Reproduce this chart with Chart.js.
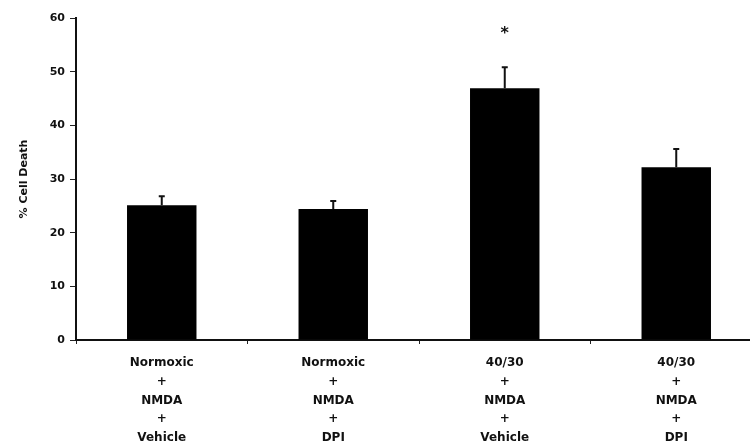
<!DOCTYPE html>
<html>
<head>
<meta charset="utf-8">
<script src="https://cdn.jsdelivr.net/npm/chart.js@4"></script>
<style>
  html, body { margin: 0; padding: 0; background: #fff; overflow: hidden; }
  #wrap { width: 762px; height: 448px; }
</style>
</head>
<body>
<div id="wrap"><canvas id="chart"></canvas></div>
<script>
// Data
const categories = [
  ['Normoxic', '+', 'NMDA', '+', 'Vehicle'],
  ['Normoxic', '+', 'NMDA', '+', 'DPI'],
  ['40/30', '+', 'NMDA', '+', 'Vehicle'],
  ['40/30', '+', 'NMDA', '+', 'DPI'],
];
const cellDeath = [25.1, 24.4, 46.9, 32.2];
const cellDeathErr = [1.7, 1.5, 3.9, 3.4];
const starLevel = [null, null, 57.7, null];
const yTicks = [0, 10, 20, 30, 40, 50, 60];

const FONT = 'DejaVu Sans, Verdana, sans-serif';

// error bars (upper only) + significance star
const extrasPlugin = {
  id: 'extras',
  afterDatasetsDraw(chart) {
    const ctx = chart.ctx;
    const x = chart.scales.x, y = chart.scales.y;
    ctx.save();
    ctx.strokeStyle = '#111';
    ctx.lineWidth = 2;
    cellDeath.forEach((v, i) => {
      const px = x.getPixelForValue(i);
      const top = y.getPixelForValue(v + cellDeathErr[i]);
      ctx.beginPath();
      ctx.moveTo(px, y.getPixelForValue(v));
      ctx.lineTo(px, top);
      ctx.moveTo(px - 3, top);
      ctx.lineTo(px + 3, top);
      ctx.stroke();
    });
    ctx.fillStyle = '#111';
    ctx.font = 'bold 16px ' + FONT;
    ctx.textAlign = 'center';
    ctx.textBaseline = 'middle';
    starLevel.forEach((s, i) => {
      if (s == null) return;
      ctx.fillText('*', x.getPixelForValue(i), y.getPixelForValue(s) + 4);
    });
    ctx.restore();
  }
};

new Chart(document.getElementById('chart').getContext('2d'), {
  type: 'bar',
  data: {
    labels: categories,
    datasets: [{
      data: cellDeath,
      backgroundColor: '#000',
      borderWidth: 0,
      categoryPercentage: 1,
      barPercentage: 0.405,
    }],
  },
  options: {
    responsive: true,
    maintainAspectRatio: false,
    animation: false,
    layout: { padding: { top: 18, left: 0, right: 0, bottom: 0 } },
    plugins: { legend: { display: false }, tooltip: { enabled: false } },
    scales: {
      x: {
        grid: { display: true, drawOnChartArea: false, drawTicks: true, tickLength: 4, color: '#222', offset: true },
        border: { color: '#111', width: 2 },
        ticks: { color: '#111', font: { family: FONT, size: 12, weight: 'bold', lineHeight: 1.55 }, padding: 10, maxRotation: 0, autoSkip: false },
        afterFit: s => { s.height = 108; },
      },
      y: {
        min: 0, max: 60,
        afterBuildTicks: s => { s.ticks = yTicks.map(v => ({ value: v })); },
        grid: { display: true, drawOnChartArea: false, drawTicks: true, tickLength: 6, color: '#222' },
        border: { color: '#111', width: 2 },
        ticks: { color: '#111', font: { family: FONT, size: 11, weight: 'bold' }, padding: 5 },
        title: { display: true, text: '% Cell Death', color: '#111', font: { family: FONT, size: 11, weight: 'bold' }, padding: { top: 18, bottom: 0 } },
        afterFit: s => { s.width = 76; },
      },
    },
  },
  plugins: [extrasPlugin],
});
</script>
</body>
</html>
